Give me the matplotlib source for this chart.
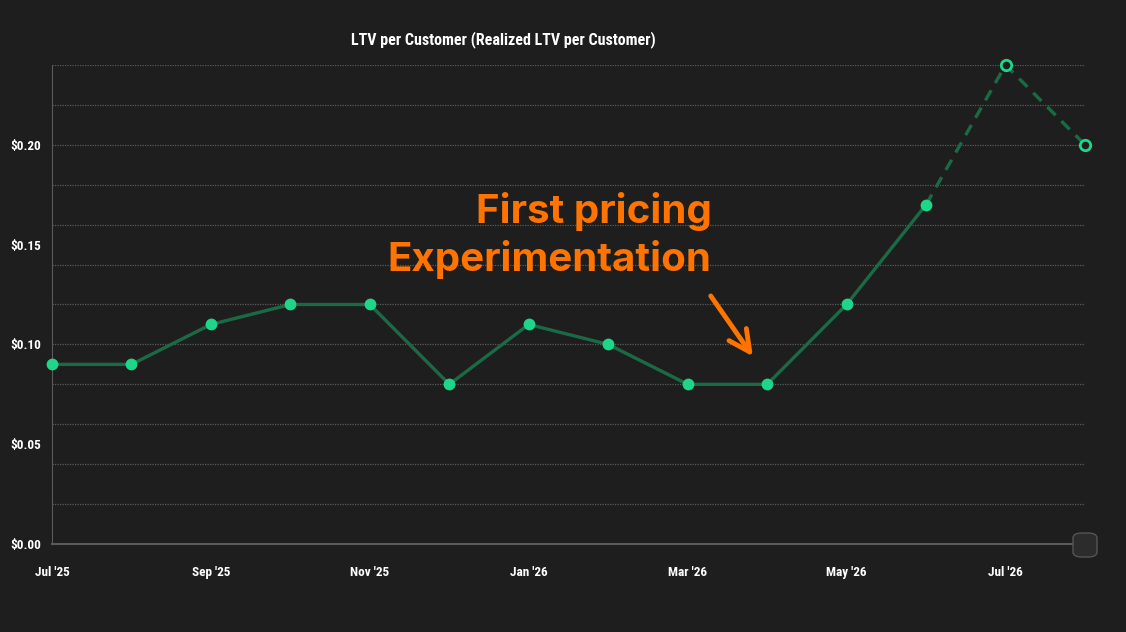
import matplotlib.pyplot as plt
import numpy as np
from matplotlib.patches import FancyBboxPatch
from matplotlib import font_manager

# Datos
months = ["Jul '25", "Aug '25", "Sep '25", "Oct '25", "Nov '25", "Dec '25", "Jan '26",
          "Feb '26", "Mar '26", "Apr '26", "May '26", "Jun '26", "Jul '26", "Aug '26"]
ltv = [0.09, 0.09, 0.11, 0.12, 0.12, 0.08, 0.11, 0.10, 0.08, 0.08, 0.12, 0.17, 0.24, 0.20]
n_actual = 12  # puntos reales (Jul '25 .. Jun '26), el resto es proyeccion

bg = '#1e1e1e'
line_c = '#1a6b45'
dot_c = '#1ed68a'
orange = '#ff7300'

# fuente estrecha si existe alguna
names = {f.name for f in font_manager.fontManager.ttflist}
narrow = 'Liberation Sans'
for cand in ['Liberation Sans Narrow', 'Roboto Condensed', 'Open Sans Condensed',
             'DejaVu Sans Condensed', 'Noto Sans Condensed']:
    if cand in names:
        narrow = cand
        break
lab_size = 9.5 if narrow != 'Liberation Sans' else 8.5

fig = plt.figure(figsize=(11.26, 6.32), dpi=100, facecolor=bg)
ax = fig.add_axes([0.0462, 0.1392, 0.9174, 0.758])
ax.set_facecolor(bg)

x = np.arange(len(months))
y = np.array(ltv)

ax.plot(x[:n_actual], y[:n_actual], '-', color=line_c, linewidth=2.4, zorder=3)
ax.plot(x[n_actual - 1:], y[n_actual - 1:], '--', color=line_c, linewidth=2.4,
        dashes=(3.5, 2.5), zorder=3, clip_on=False)
ax.plot(x[:n_actual], y[:n_actual], 'o', color=dot_c, markersize=8.5, zorder=4,
        markeredgewidth=0, clip_on=False)
ax.plot(x[n_actual:], y[n_actual:], 'o', markerfacecolor=bg, markeredgecolor=dot_c,
        markersize=7.5, markeredgewidth=2, zorder=4, clip_on=False)

ax.set_xlim(0, len(months) - 1)
ax.set_ylim(0, 0.24)
ax.set_yticks([0, 0.05, 0.10, 0.15, 0.20])
ax.set_yticklabels(['$0.00', '$0.05', '$0.10', '$0.15', '$0.20'])
ax.set_xticks(x[::2])
ax.set_xticklabels(months[::2])

ax.grid(False)
for g in np.arange(0.02, 0.2401, 0.02):
    ax.axhline(g, color='#5a5a5a', linewidth=0.9, linestyle=(0, (1, 1)), zorder=1)

ax.tick_params(axis='both', which='both', length=0, colors='white')
ax.tick_params(axis='x', pad=16)
ax.tick_params(axis='y', pad=8)
for lab in ax.get_xticklabels() + ax.get_yticklabels():
    lab.set_fontfamily(narrow)
    lab.set_fontweight('bold')
    lab.set_fontsize(lab_size)

for s in ['top', 'right']:
    ax.spines[s].set_visible(False)
ax.spines['left'].set_color('#5a5a5a')
ax.spines['bottom'].set_color('#5a5a5a')
ax.spines['bottom'].set_linewidth(1.5)

fig.text(503 / 1126, 0.938, 'LTV per Customer (Realized LTV per Customer)', color='white',
         fontsize=lab_size + 2, fontweight='bold', fontfamily=narrow, ha='center', va='center')

ax.text(8.3, 0.1545, 'First pricing\nExperimentation', color=orange, fontsize=29,
        fontweight='bold', fontfamily=['Inter', 'DejaVu Sans'], ha='right', va='center',
        linespacing=1.27, zorder=5)
ax.annotate('', xy=(8.82, 0.094), xytext=(8.29, 0.1243),
            arrowprops=dict(arrowstyle='->', color=orange, lw=3.5, mutation_scale=38,
                            shrinkA=0, shrinkB=0))

# control de scroll en la esquina
fig.patches.append(FancyBboxPatch((1073 / 1126, 1 - 557 / 632), 24 / 1126, 24 / 632,
                                  boxstyle='round,pad=0,rounding_size=0.008',
                                  transform=fig.transFigure, facecolor='#2c2c2c',
                                  edgecolor='#555555', linewidth=1, zorder=6))

fig.savefig('out.png', dpi=100, facecolor=bg)
